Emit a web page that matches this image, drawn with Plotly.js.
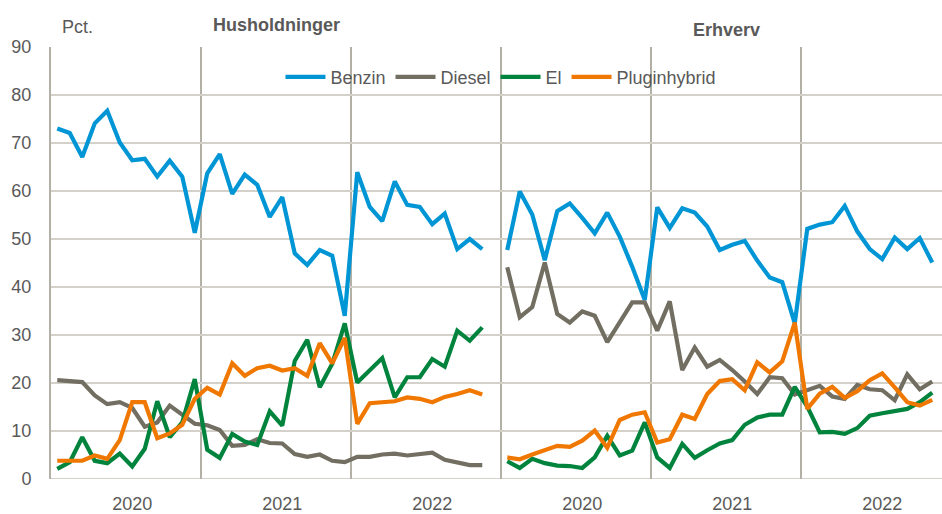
<!DOCTYPE html>
<html>
<head>
<meta charset="utf-8">
<script src="https://cdn.plot.ly/plotly-3.0.1.min.js"></script>
<style>html,body{margin:0;padding:0;background:#fff;}#chart{width:942px;height:514px;}</style>
</head>
<body>
<div id="chart"></div>
<script>
// Monthly shares (Pct.), Jan 2020 - Nov 2022
const seriesNames = ["Benzin", "Diesel", "El", "Pluginhybrid"];
const panelTitles = ["Husholdninger", "Erhverv"];
const yearLabels = ["2020", "2021", "2022"];

const husBenzin = [73.0,72.1,67.1,74.1,76.7,70.1,66.4,66.7,63.0,66.3,63.0,51.3,
                   63.7,67.7,59.4,63.4,61.3,54.6,58.7,47.0,44.6,47.7,46.5,34.0,
                   63.9,56.7,53.7,62.0,57.1,56.7,53.1,55.3,47.9,50.0,47.9];
const husDiesel = [20.6,20.3,20.2,17.4,15.6,16.0,14.8,10.9,11.8,15.3,13.5,11.5,
                   11.2,10.2,6.9,7.1,8.3,7.5,7.4,5.2,4.6,5.1,3.8,3.5,
                   4.6,4.6,5.1,5.3,4.9,5.3,5.5,4.0,3.5,2.9,2.9];
const husEl     = [2.1,3.5,8.7,3.8,3.3,5.3,2.6,6.3,16.2,8.7,11.8,20.8,
                   6.1,4.4,9.4,7.8,7.1,14.1,11.1,24.6,29.0,19.1,24.0,32.4,
                   20.1,22.7,25.2,17.0,21.2,21.2,25.0,23.4,30.9,28.8,31.6];
const husPlugin = [3.8,3.8,3.8,4.9,4.2,8.1,16.0,16.0,8.5,9.5,11.3,16.7,
                   19.0,17.6,24.1,21.5,23.1,23.6,22.6,23.1,21.5,28.3,24.1,29.4,
                   11.5,15.8,16.0,16.2,17.0,16.7,16.0,17.1,17.7,18.5,17.6];

const erhBenzin = [47.7,59.9,55.1,45.6,55.8,57.4,54.4,51.2,55.5,50.5,44.2,37.3,
                   56.6,52.3,56.4,55.5,52.6,47.7,48.8,49.6,45.5,42.0,41.0,32.4,
                   52.1,53.0,53.5,56.9,51.6,47.9,45.8,50.3,47.9,50.2,45.1];
const erhDiesel = [44.1,33.7,35.8,45.1,34.4,32.6,34.9,34.0,28.5,32.6,36.8,36.8,
                   30.9,37.0,22.7,27.4,23.4,24.8,22.7,20.3,17.7,21.2,21.0,17.6,
                   18.5,19.4,17.2,16.7,19.6,18.7,18.5,16.4,21.8,18.7,20.3];
const erhEl     = [3.7,2.3,4.2,3.3,2.8,2.7,2.3,4.5,9.0,4.9,5.9,11.8,
                   4.5,2.3,7.3,4.4,6.0,7.4,8.1,11.3,12.8,13.4,13.4,19.2,
                   15.1,9.7,9.8,9.4,10.6,13.2,13.7,14.2,14.6,16.0,18.0];
const erhPlugin = [4.5,4.1,5.1,6.0,6.9,6.7,8.0,10.1,6.5,12.3,13.4,13.9,
                   7.6,8.3,13.4,12.5,17.7,20.4,20.8,18.5,24.3,22.2,24.5,32.6,
                   14.6,17.8,19.2,16.9,18.3,20.6,22.0,19.1,16.0,15.3,16.5];

const colors = ["#0096d6", "#726f62", "#00843d", "#f07800"];
const font = "'Liberation Sans Narrow','Arial Narrow','Liberation Sans',Arial,sans-serif";
const txt = "#595959";

const panelSlots = 36; // 3 years x 12 months per panel
const husAll = [husBenzin, husDiesel, husEl, husPlugin];
const erhAll = [erhBenzin, erhDiesel, erhEl, erhPlugin];

const traces = seriesNames.map((name, k) => {
  const x = [], y = [];
  husAll[k].forEach((v, i) => { x.push(i); y.push(v); });
  x.push(husAll[k].length); y.push(null);
  erhAll[k].forEach((v, i) => { x.push(panelSlots + i); y.push(v); });
  return {type: "scatter", mode: "lines", name: name, x: x, y: y,
          connectgaps: false, line: {color: colors[k], width: 4.2}, hoverinfo: "skip"};
});

// gridline positions between years, and year label positions (mid-year)
const sepVals = [], labVals = [], labText = [];
for (let p = 0; p < 2; p++) {
  for (let yr = 0; yr < 3; yr++) {
    sepVals.push(p * panelSlots + yr * 12 - 0.5);
    labVals.push(p * panelSlots + yr * 12 + 6);
    labText.push(yearLabels[yr]);
  }
}

const layout = {
  width: 942, height: 514,
  margin: {l: 51, r: 0, t: 47, b: 35},
  paper_bgcolor: "#fff", plot_bgcolor: "#fff",
  font: {family: font, color: txt, size: 18},
  showlegend: true,
  legend: {orientation: "h", x: 0.505, xanchor: "center", y: 0.93, yanchor: "middle",
           bgcolor: "rgba(0,0,0,0)", font: {family: font, size: 18, color: txt},
           itemwidth: 40, tracegroupgap: 0},
  xaxis: {range: [-0.5, 70.78], tickmode: "array", tickvals: sepVals, ticktext: sepVals.map(() => ""),
          showgrid: true, gridcolor: "#b3b1a5", gridwidth: 2, zeroline: false,
          showline: false, ticks: "", fixedrange: true},
  xaxis2: {range: [-0.5, 70.78], overlaying: "x", side: "bottom", tickmode: "array",
           tickvals: labVals, ticktext: labText, showgrid: false, zeroline: false,
           showline: false, ticks: "", ticklabelstandoff: 12,
           tickfont: {family: font, size: 18, color: txt}},
  yaxis: {range: [0, 90], dtick: 10, tick0: 0, showgrid: true, gridcolor: "#d3d1c9", gridwidth: 2,
          zeroline: false, showline: true, linecolor: "#b3b1a5", linewidth: 2,
          ticks: "", ticklabelstandoff: 14,
          tickfont: {family: font, size: 18, color: txt}},
  annotations: [
    {text: "Pct.", xref: "paper", yref: "paper", x: 0.01, y: 1, yshift: 20, xanchor: "left", yanchor: "middle",
     showarrow: false, font: {family: font, size: 18, color: txt}},
    {text: "<b>" + panelTitles[0] + "</b>", xref: "x", yref: "paper", x: 17.5, y: 1, yshift: 22,
     xanchor: "center", yanchor: "middle", showarrow: false, font: {family: font, size: 18, color: txt}},
    {text: "<b>" + panelTitles[1] + "</b>", xref: "x", yref: "paper", x: 53.5, y: 1, yshift: 17,
     xanchor: "center", yanchor: "middle", showarrow: false, font: {family: font, size: 18, color: txt}}
  ],
  shapes: [
    {type: "line", xref: "paper", yref: "y", x0: 0, x1: 1, y0: 0, y1: 0, line: {color: "#d3d1c9", width: 2}, layer: "below"}
  ]
};
// dummy trace to show xaxis2 labels
traces.push({type: "scatter", x: [labVals[0]], y: [null], xaxis: "x2", showlegend: false, hoverinfo: "skip"});

Plotly.newPlot("chart", traces, layout, {staticPlot: true, displayModeBar: false});
</script>
</body>
</html>
